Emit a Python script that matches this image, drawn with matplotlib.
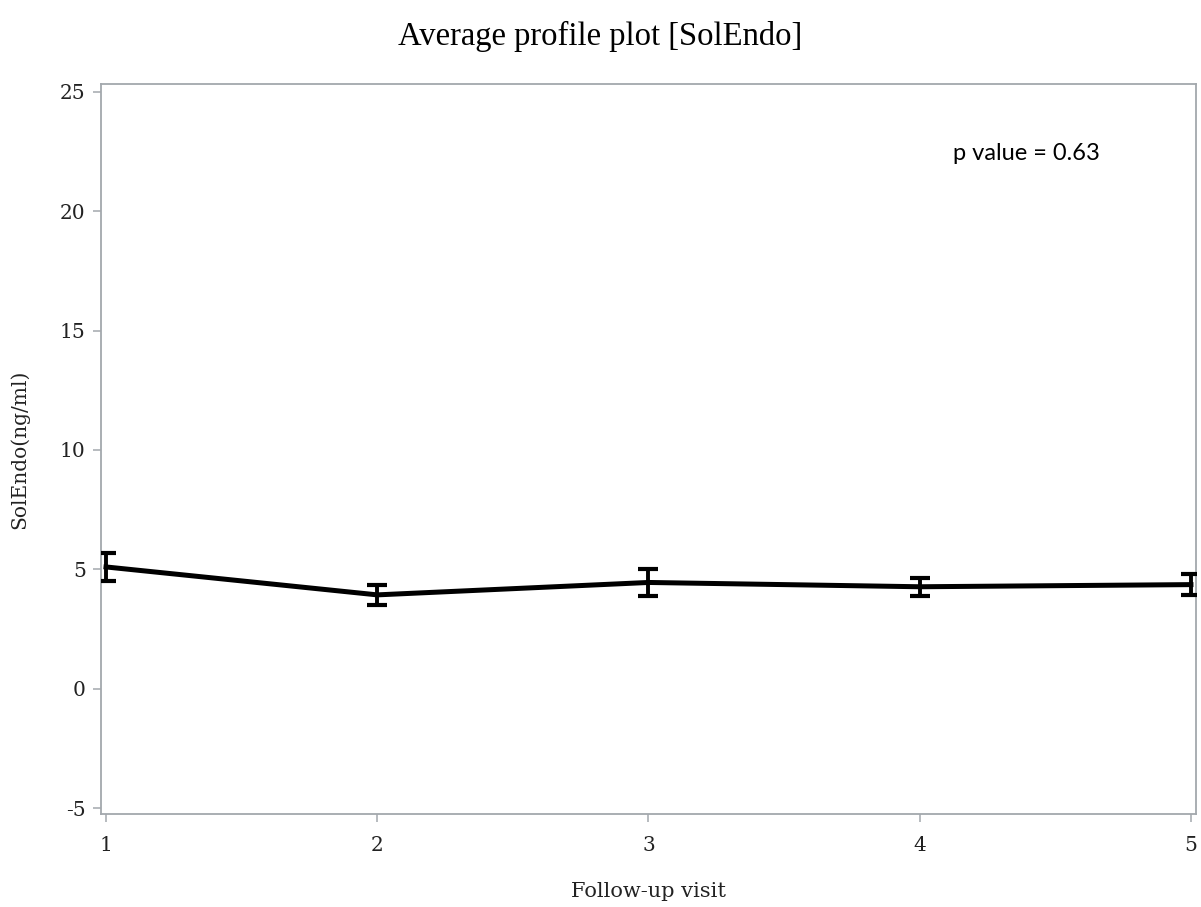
import numpy as np
import matplotlib
matplotlib.use("Agg")
import matplotlib.pyplot as plt

plt.rcParams["axes.unicode_minus"] = False

# Mean SolEndo per follow-up visit, with error bar half-widths
visits = [1, 2, 3, 4, 5]
mean_solendo = [5.10, 3.93, 4.45, 4.27, 4.36]
err_solendo = [0.59, 0.42, 0.55, 0.37, 0.45]
y_ticks = [-5, 0, 5, 10, 15, 20, 25]
p_value = 0.63

spine_gray = "#a3a8ad"
label_font = "DejaVu Serif"

fig = plt.figure(figsize=(12.01, 9.07), dpi=100)
ax = fig.add_axes([0.0841, 0.1025, 0.9117, 0.8049])

ax.errorbar(visits, mean_solendo, yerr=err_solendo, color="black", lw=3.6,
            elinewidth=2.8, capsize=7, capthick=3.0, clip_on=True, zorder=3)

ax.set_xlim(0.9815, 5.0185)
ax.set_ylim(-5.25, 25.33)
ax.set_xticks(visits)
ax.set_yticks(y_ticks)

for side in ["left", "bottom", "right", "top"]:
    ax.spines[side].set_color(spine_gray)
    ax.spines[side].set_linewidth(1.3)

ax.tick_params(axis="both", direction="out", length=6, width=1.1, color=spine_gray,
               labelsize=14.5)
ax.tick_params(axis="x", pad=10)
ax.tick_params(axis="y", pad=5)
for lbl in ax.get_xticklabels() + ax.get_yticklabels():
    lbl.set_family(label_font)
    lbl.set_color("#222222")

ax.set_xlabel("Follow-up visit", family=label_font, fontsize=15, labelpad=19, color="#222222")
ax.set_ylabel("SolEndo(ng/ml)", family=label_font, fontsize=14.5, labelpad=22, color="#222222")

ax.text(0.845, 0.905, f"p value = {p_value}", transform=ax.transAxes, ha="center", va="center",
        family="Lato", fontsize=17)

fig.suptitle("Average profile plot [SolEndo]", family="Liberation Serif", fontsize=23.5,
             x=0.5, y=0.96, va="center")

fig.savefig("out.png", dpi=100, facecolor="white")
